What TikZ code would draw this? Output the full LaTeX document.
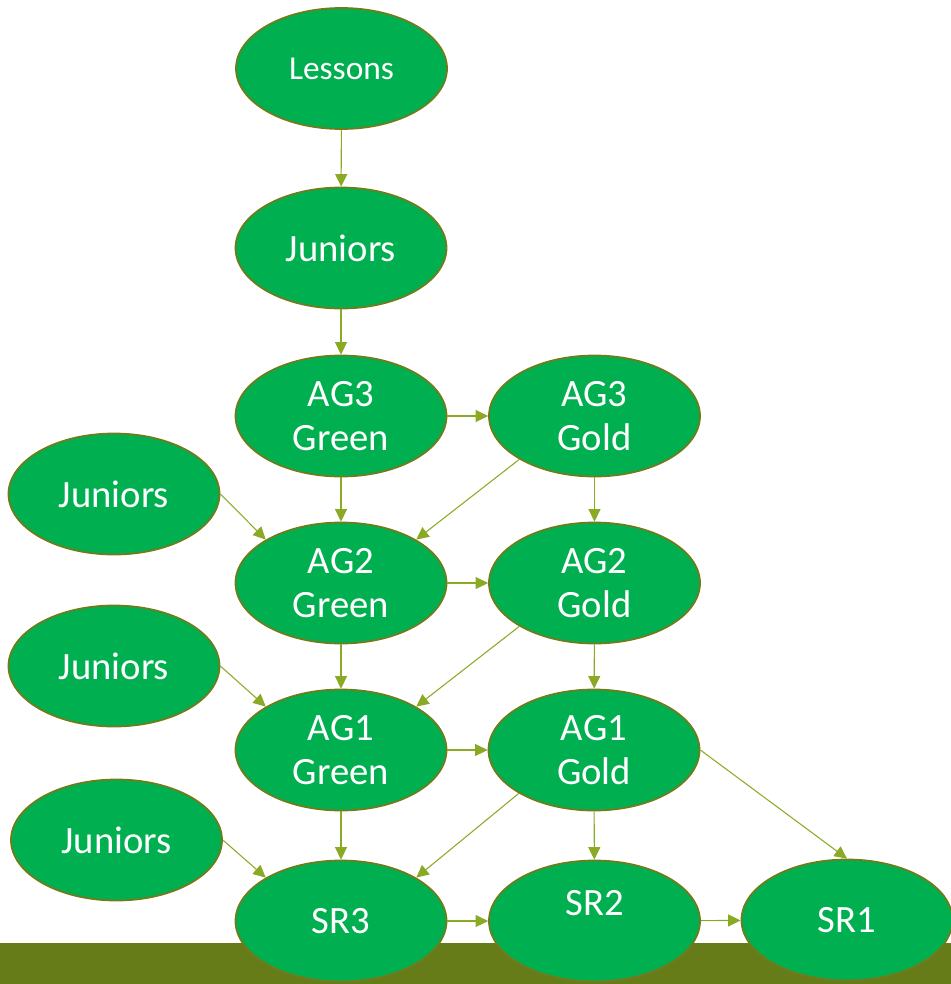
\documentclass[tikz,border=0pt]{standalone}
\usepackage{fontspec}
\setmainfont{Carlito}
\usetikzlibrary{shapes.geometric,arrows.meta}

\definecolor{bubblefill}{RGB}{0,176,80}
\definecolor{bubbleline}{RGB}{112,124,28}
\definecolor{linkcol}{RGB}{138,170,38}
\definecolor{bandcol}{RGB}{102,124,25}

\begin{document}
\begin{tikzpicture}[
    bubble/.style={ellipse, fill=bubblefill, draw=bubbleline, line width=1pt,
        minimum width=4.22cm, minimum height=2.42cm, inner sep=0pt,
        text=white, align=center, font=\fontsize{22}{25}\selectfont},
    link/.style={draw=linkcol, line width=0.6pt,
        -{Triangle[length=0.25cm, width=0.24cm]}}
]
            \useasboundingbox (0,0) rectangle (19.02,-19.68);

            % Ground band
            \fill[bandcol] (0,-18.86) rectangle (19.02,-19.68);

            % Middle column
            \node[bubble, font=\fontsize{19}{22}\selectfont] (lessons) at (6.83,-1.37) {Lessons};
            \node[bubble] (jr) at (6.82,-4.96) {Juniors};
            \node[bubble] (ag3green) at (6.82,-8.32) {AG3\\Green};
            \node[bubble] (ag2green) at (6.82,-11.66) {AG2\\Green};
            \node[bubble] (ag1green) at (6.82,-15.00) {AG1\\Green};
            \node[bubble] (sr3) at (6.82,-18.42) {SR3};

            % Gold column
            \node[bubble] (ag3gold) at (11.89,-8.32) {AG3\\Gold};
            \node[bubble] (ag2gold) at (11.89,-11.66) {AG2\\Gold};
            \node[bubble] (ag1gold) at (11.88,-15.00) {AG1\\Gold};
            \node[bubble, label={[text=white, font=\fontsize{22}{25}\selectfont, yshift=0.36cm]center:SR2}] (sr2) at (11.89,-18.42) {};
            \node[bubble] (sr1) at (16.94,-18.40) {SR1};

            % Juniors joining from the left
            \node[bubble] (j1) at (2.28,-9.88) {Juniors};
            \node[bubble] (j2) at (2.28,-13.32) {Juniors};
            \node[bubble] (j3) at (2.33,-16.80) {Juniors};

            % Progressions
            \draw[link] (lessons) -- (jr);
            \draw[link] (jr) -- (ag3green);
            \draw[link] (ag3green) -- (ag3gold);
            \draw[link] (ag3green) -- (ag2green);
            \draw[link] (ag3gold) -- (ag2gold);
            \draw[link] (ag3gold.south west) -- (ag2green.north east);
            \draw[link] (j1.east) -- (ag2green.north west);

            \draw[link] (ag2green) -- (ag2gold);
            \draw[link] (ag2green) -- (ag1green);
            \draw[link] (ag2gold) -- (ag1gold);
            \draw[link] (ag2gold.south west) -- (ag1green.north east);
            \draw[link] (j2.east) -- (ag1green.north west);

            \draw[link] (ag1green) -- (ag1gold);
            \draw[link] (ag1green) -- (sr3);
            \draw[link] (ag1gold) -- (sr2);
            \draw[link] (ag1gold.south west) -- (sr3.north east);
            \draw[link] (ag1gold.east) -- (sr1.north);
            \draw[link] (j3.east) -- (sr3.north west);

            \draw[link] (sr3) -- (sr2);
            \draw[link] (sr2) -- (sr1);

\end{tikzpicture}
\end{document}
